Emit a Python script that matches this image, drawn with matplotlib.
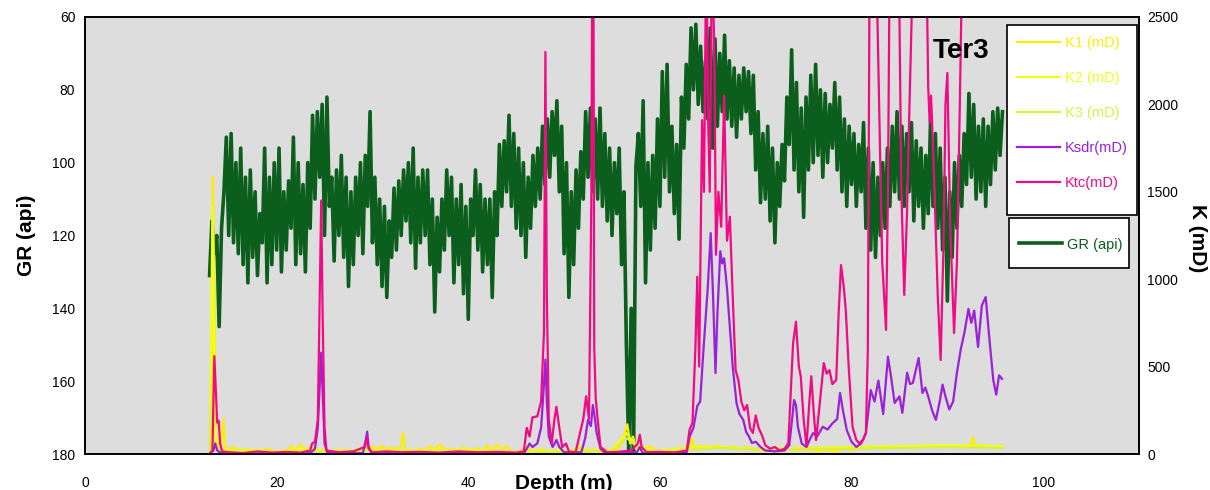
import numpy as np
import matplotlib
matplotlib.use("Agg")
import matplotlib.pyplot as plt
from matplotlib.patches import Rectangle

plt.rcParams['font.family'] = ['Liberation Sans', 'DejaVu Sans']

# GR log read as two samples per half metre (at d and d + 0.25 m), from 13.0 m
gr_start = 13.0
gr_a = [131, 125, 145, 108, 120, 122, 125, 128, 133, 126,
        131, 122, 133, 128, 124, 130, 124, 118, 128, 125,
        130, 118, 110, 104, 120, 112, 127, 120, 126, 134,
        128, 120, 125, 112, 122, 128, 134, 137, 126, 124,
        120, 116, 122, 129, 122, 120, 128, 141, 130, 124,
        120, 133, 128, 136, 143, 120, 124, 130, 128, 137,
        120, 112, 108, 112, 118, 120, 126, 118, 112, 110,
        106, 104, 98, 108, 125, 137, 128, 118, 110, 104,
        108, 110, 112, 116, 120, 114, 128, 150, 140, 101,
        112, 133, 124, 118, 112, 104, 108, 114, 121, 96,
        88, 80, 84, 86, 88, 96, 90, 86, 88, 90,
        93, 88, 86, 92, 102, 111, 110, 116, 122, 112,
        105, 95, 102, 108, 115, 102, 100, 98, 104, 100,
        96, 102, 108, 112, 106, 112, 108, 118, 124, 126,
        120, 118, 112, 108, 110, 112, 108, 116, 112, 118,
        114, 112, 118, 124, 138, 126, 118, 112, 106, 104,
        110, 108, 112, 106, 102, 98]
gr_b = [116, 120, 118, 93, 92, 100, 96, 104, 102, 108,
        114, 96, 104, 100, 96, 108, 105, 93, 100, 106,
        100, 87, 86, 84, 82, 104, 102, 98, 104, 108,
        104, 100, 98, 86, 104, 110, 112, 116, 107, 105,
        102, 100, 96, 104, 102, 102, 110, 115, 110, 102,
        104, 110, 106, 112, 110, 102, 106, 110, 110, 108,
        95, 94, 87, 92, 96, 100, 104, 98, 96, 90,
        88, 86, 83, 90, 100, 108, 102, 97, 86, 85,
        88, 85, 92, 96, 100, 96, 108, 180, 180, 92,
        83, 100, 98, 88, 75, 73, 90, 95, 82, 73,
        63, 62, 68, 72, 63, 66, 70, 65, 72, 74,
        76, 74, 75, 76, 86, 92, 90, 96, 100, 95,
        82, 69, 78, 85, 82, 76, 73, 80, 81, 84,
        78, 82, 88, 90, 92, 95, 89, 96, 100, 104,
        100, 96, 90, 86, 90, 92, 89, 94, 96, 98,
        88, 92, 96, 104, 108, 100, 98, 92, 81, 84,
        90, 88, 90, 86, 85, 86]
gr = np.column_stack([gr_a, gr_b]).ravel()
gr_depth = gr_start + 0.25 * np.arange(len(gr))

k1_depth = [13.0, 13.2, 13.35, 13.5, 13.65, 13.9, 14.2, 14.45, 14.6, 15.0, 15.5, 16.0, 16.5, 17.0, 17.5,
            18.0, 18.5, 19.0, 19.5, 20.0, 20.5, 21.0, 21.5, 22.0, 22.5, 23.0, 23.5, 24.0, 24.5, 25.0,
            25.5, 26.0, 26.5, 27.0, 27.5, 28.0, 28.5, 29.0, 29.5, 30.0, 30.5, 31.0, 31.5, 32.0, 32.5,
            33.0, 33.2, 33.4, 34.0, 34.5, 35.0, 35.5, 36.0, 36.5, 37.0, 37.5, 38.0, 38.5, 39.0, 39.5,
            40.0, 40.5, 41.0, 41.5, 42.0, 42.5, 43.0, 43.5, 44.0, 44.5, 45.0, 45.5, 46.0, 46.5, 47.0,
            47.5, 48.0, 48.5, 49.0, 49.5, 50.0, 50.5, 51.0, 51.5, 52.0, 52.5, 53.0, 53.5, 54.0, 54.5,
            55.0, 55.5, 56.0, 56.3, 56.6, 56.9, 57.2, 57.5, 58.0, 58.5, 59.0, 59.5, 60.0, 60.5, 61.0,
            61.5, 62.0, 62.5, 63.0, 63.3, 63.6, 64.0, 64.5, 65.0, 65.5, 66.0, 66.5, 67.0, 67.5, 68.0,
            68.5, 69.0, 69.5, 70.0, 70.5, 71.0, 71.5, 72.0, 72.5, 73.0, 73.5, 74.0, 74.5, 75.0, 75.5,
            76.0, 76.5, 77.0, 77.5, 78.0, 78.5, 79.0, 79.5, 80.0, 80.5, 81.0, 81.5, 82.0, 82.5, 83.0,
            83.5, 84.0, 84.5, 85.0, 85.5, 86.0, 86.5, 87.0, 87.5, 88.0, 88.5, 89.0, 89.5, 90.0, 90.5,
            91.0, 91.5, 92.0, 92.5, 92.65, 92.8, 93.0, 93.5, 94.0, 94.5, 95.0, 95.5, 95.8]
k1 = [0, 200, 1585, 900, 60, 30, 60, 200, 40, 25, 40, 20, 15, 30, 10,
      25, 15, 30, 20, 10, 20, 15, 45, 20, 55, 15, 40, 25, 15, 20,
      10, 15, 25, 10, 20, 15, 30, 15, 35, 40, 30, 45, 25, 40, 20,
      50, 120, 30, 20, 15, 30, 20, 45, 25, 55, 30, 15, 30, 10, 40,
      15, 20, 35, 15, 50, 20, 55, 25, 45, 15, 10, 20, 40, 25, 15,
      30, 20, 15, 10, 20, 15, 10, 20, 45, 15, 10, 25, 15, 10, 20,
      15, 25, 60, 120, 170, 60, 100, 30, 50, 30, 45, 20, 15, 10, 15,
      10, 20, 15, 40, 90, 35, 50, 30, 45, 35, 50, 40, 30, 45, 35,
      25, 40, 30, 20, 25, 15, 20, 25, 15, 20, 30, 25, 20, 30, 20,
      25, 15, 20, 25, 15, 20, 25, 30, 20, 35, 40, 30, 45, 35, 40,
      30, 45, 40, 35, 45, 40, 35, 45, 40, 50, 45, 40, 45, 50, 40,
      45, 50, 45, 60, 100, 60, 50, 45, 50, 40, 45, 40, 35]

k2_depth = [13.0, 13.15, 13.3, 13.45, 13.6, 14.0, 15.0, 17.0, 20.0, 23.0, 26.0, 30.0, 35.0, 40.0,
            45.0, 50.0, 55.0, 56.5, 57.5, 60.0, 64.0, 70.0, 75.0, 80.0, 85.0, 90.0, 95.8]
k2 = [0, 500, 1415, 700, 100, 40, 20, 25, 15, 30, 20, 25, 20, 25,
      15, 20, 25, 120, 40, 20, 45, 30, 35, 40, 45, 50, 45]

k3_depth = [13.0, 13.15, 13.3, 13.5, 14.0, 16.0, 20.0, 25.0, 30.0, 35.0, 40.0, 45.0, 50.0, 55.0,
            56.6, 58.0, 62.0, 66.0, 70.0, 75.0, 80.0, 85.0, 90.0, 95.8]
k3 = [0, 290, 150, 40, 20, 15, 10, 15, 20, 15, 10, 15, 10, 20,
      90, 25, 15, 35, 25, 30, 30, 35, 40, 35]

ksdr_depth = [13.0, 13.4, 13.6, 13.8, 14.2, 15.0, 20.0, 23.5, 24.0, 24.3, 24.5, 24.65, 24.8, 25.0,
              25.3, 29.0, 29.3, 29.45, 29.6, 29.9, 45.8, 46.1, 46.4, 46.7, 47.2, 47.6, 47.9, 48.05,
              48.2, 48.4, 48.8, 49.2, 49.5, 50.0, 51.8, 52.2, 52.5, 52.8, 53.0, 53.2, 53.4, 53.8,
              54.3, 57.6, 57.9, 58.2, 62.8, 63.1, 63.5, 63.9, 64.2, 64.5, 64.8, 65.0, 65.3, 65.55,
              65.8, 66.0, 66.3, 66.5, 66.7, 67.0, 67.3, 67.6, 68.0, 68.3, 68.7, 69.0, 69.3, 69.6,
              70.0, 70.5, 71.0, 72.0, 73.0, 73.5, 73.8, 74.0, 74.2, 74.4, 74.8, 75.3, 75.7, 76.0,
              76.4, 77.0, 77.5, 78.0, 78.5, 78.8, 79.1, 79.5, 80.0, 80.5, 81.0, 81.5, 82.0, 82.4,
              82.8, 83.3, 83.8, 84.1, 84.5, 85.0, 85.3, 85.8, 86.1, 86.4, 87.0, 87.4, 87.7, 88.0,
              88.4, 88.8, 89.2, 89.5, 89.8, 90.2, 90.6, 91.0, 91.4, 91.8, 92.2, 92.5, 92.8, 93.2,
              93.6, 94.0, 94.4, 94.8, 95.1, 95.4, 95.7]
ksdr = [0, 20, 60, 20, 5, 3, 3, 5, 30, 150, 400, 580, 350, 60,
        5, 5, 80, 128, 40, 5, 5, 30, 60, 40, 60, 150, 400, 540,
        300, 100, 40, 80, 40, 10, 10, 90, 195, 160, 280, 210, 120, 30,
        5, 10, 40, 5, 10, 100, 150, 275, 300, 560, 800, 957, 1264, 900,
        463, 800, 1160, 1090, 1120, 950, 728, 500, 290, 229, 195, 126, 100, 63,
        70, 40, 20, 15, 20, 50, 200, 309, 280, 156, 60, 40, 90, 120,
        100, 156, 140, 175, 200, 349, 250, 137, 70, 40, 60, 120, 366, 300,
        420, 229, 557, 450, 292, 330, 235, 465, 400, 407, 549, 349, 380, 330,
        250, 195, 300, 397, 330, 255, 300, 465, 600, 700, 830, 750, 820, 612,
        850, 898, 650, 420, 340, 450, 430]

ktc_depth = [13.0, 13.3, 13.5, 13.7, 13.8, 13.95, 14.1, 14.3, 15.0, 16.5, 18.0, 19.5, 21.0, 22.5,
             23.5, 23.7, 24.0, 24.3, 24.5, 24.65, 24.8, 25.0, 25.2, 26.5, 28.0, 29.2, 29.4, 29.6,
             30.0, 31.5, 33.0, 35.0, 37.0, 39.0, 41.0, 43.0, 45.0, 45.8, 46.1, 46.4, 46.7, 47.2,
             47.6, 47.9, 48.05, 48.2, 48.4, 48.7, 49.0, 49.2, 49.5, 49.8, 50.2, 50.5, 51.2, 52.0,
             52.3, 52.6, 52.85, 52.95, 53.05, 53.15, 53.3, 53.5, 53.8, 54.5, 55.5, 57.0, 57.7, 57.9,
             58.1, 58.6, 60.0, 61.5, 62.8, 63.1, 63.4, 63.7, 63.9, 64.1, 64.4, 64.6, 64.85, 65.0,
             65.2, 65.45, 65.7, 65.85, 66.1, 66.4, 66.7, 67.0, 67.3, 67.6, 67.9, 68.2, 68.5, 68.8,
             69.1, 69.4, 69.7, 70.0, 70.3, 70.7, 71.0, 71.5, 72.0, 72.5, 73.0, 73.4, 73.7, 73.9,
             74.2, 74.5, 74.7, 75.0, 75.3, 75.6, 75.8, 76.1, 76.3, 76.7, 77.1, 77.4, 77.7, 78.0,
             78.4, 78.65, 78.9, 79.2, 79.4, 79.7, 80.1, 80.5, 80.8, 81.2, 81.5, 81.7, 81.9, 82.4,
             82.7, 83.2, 83.6, 83.8, 84.0, 84.6, 85.0, 85.2, 85.5, 85.8, 86.0, 86.5, 87.3, 87.9,
             88.0, 88.15, 88.3, 88.6, 89.0, 89.3, 89.6, 89.8, 90.0, 90.3, 90.7, 91.0, 91.3, 91.6,
             92.0]
ktc = [0, 20, 560, 300, 180, 190, 60, 15, 10, 5, 15, 8, 12, 8,
       20, 60, 70, 200, 900, 1450, 800, 150, 20, 10, 15, 40, 90, 30,
       10, 15, 10, 12, 8, 15, 10, 12, 8, 15, 150, 100, 210, 215,
       300, 700, 2300, 900, 200, 60, 200, 270, 150, 40, 60, 15, 10, 200,
       330, 200, 1500, 3000, 3000, 600, 320, 200, 40, 10, 12, 20, 60, 110,
       40, 10, 12, 8, 20, 140, 180, 600, 1014, 500, 1910, 1500, 3000, 2000,
       1500, 3000, 2200, 1140, 1500, 1300, 2050, 1220, 1357, 900, 480, 420, 300, 250,
       280, 150, 120, 220, 150, 100, 50, 30, 40, 20, 30, 60, 400, 635,
       757, 500, 445, 200, 45, 300, 445, 200, 80, 300, 520, 460, 480, 400,
       423, 800, 1081, 950, 823, 500, 156, 80, 61, 80, 120, 600, 3000, 3500,
       2500, 1100, 710, 1500, 3000, 3500, 2500, 1500, 910, 1400, 1890, 3000, 3500, 2500,
       2100, 1900, 2050, 1600, 900, 538, 1200, 2000, 2180, 1300, 692, 1100, 2000, 3000,
       3500]

fig = plt.figure(figsize=(12.1, 4.9), dpi=100)
ax = fig.add_axes([85 / 1210, 36 / 490, 1054 / 1210, 437 / 490])
ax.set_facecolor('#dcdddc')

gr_line, = ax.plot(gr_depth, gr, color='#0b5e1c', lw=2.6, label='GR (api)')
ax.set_xlim(0, 110)
ax.set_ylim(180, 60)
ax.set_xticks([0, 20, 40, 60, 80, 100])
ax.set_yticks([60, 80, 100, 120, 140, 160, 180])
ax.tick_params(axis='x', length=0, pad=16, labelsize=10)
ax.tick_params(axis='y', length=0, pad=7, labelsize=10)

ax2 = ax.twinx()
l1, = ax2.plot(k1_depth, k1, color='#ffee00', lw=1.6, label='K1 (mD)')
l2, = ax2.plot(k2_depth, k2, color='#eeff1a', lw=1.6, label='K2 (mD)')
l3, = ax2.plot(k3_depth, k3, color='#ddee44', lw=1.6, label='K3 (mD)')
l4, = ax2.plot(ksdr_depth, ksdr, color='#9b20d9', lw=1.6, label='Ksdr(mD)')
l5, = ax2.plot(ktc_depth, ktc, color='#f00a84', lw=1.6, label='Ktc(mD)')
ax2.set_ylim(0, 2500)
ax2.set_yticks([0, 500, 1000, 1500, 2000, 2500])
ax2.tick_params(axis='y', length=0, pad=6, labelsize=10)

for a in (ax, ax2):
    for s in a.spines.values():
        s.set_color('black')
        s.set_linewidth(1.2)

# legend boxes drawn as plain rectangles, entries placed inside them
for box in [(0.8748, 0.5469, 0.1233, 0.4348), (0.8767, 0.4256, 0.1139, 0.1144)]:
    ax2.add_patch(Rectangle(box[:2], box[2], box[3], transform=ax2.transAxes,
                            facecolor='white', edgecolor='black', lw=1.2,
                            zorder=5, clip_on=False))

leg1 = ax2.legend(handles=[l1, l2, l3, l4, l5], loc='upper left',
                  bbox_to_anchor=(0.8845, 0.957), frameon=False,
                  fontsize=10.5, labelcolor='linecolor',
                  handlelength=2.9, handletextpad=0.35, labelspacing=1.45,
                  borderpad=0, borderaxespad=0)
leg1.set_zorder(6)
ax2.add_artist(leg1)
leg2 = ax2.legend(handles=[gr_line], loc='upper left',
                  bbox_to_anchor=(0.8864, 0.4954), frameon=False,
                  fontsize=10.5, labelcolor='linecolor',
                  handlelength=2.9, handletextpad=0.35, borderpad=0, borderaxespad=0)
leg2.set_zorder(6)

ax2.text(0.831, 0.922, 'Ter3', transform=ax2.transAxes, ha='center', va='center',
         fontsize=20, fontweight='bold')

fig.text(27 / 1210, 1 - 235 / 490, 'GR (api)', rotation=90, ha='center', va='center',
         fontsize=15, fontweight='bold')
fig.text(1197 / 1210, 1 - 238 / 490, 'K (mD)', rotation=270, ha='center', va='center',
         fontsize=15, fontweight='bold')
fig.text(564 / 1210, 1 - 474 / 490, 'Depth (m)', ha='center', va='top',
         fontsize=15, fontweight='bold')

fig.savefig('out.png', dpi=100)
